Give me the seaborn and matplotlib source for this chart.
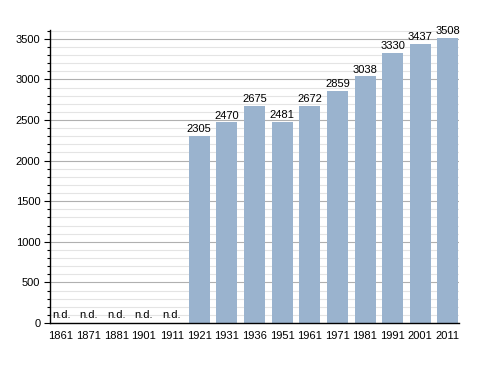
import numpy as np
import pandas as pd
import matplotlib
matplotlib.use('Agg')
import matplotlib.pyplot as plt
from matplotlib.ticker import MultipleLocator
import seaborn as sns

# census years and population (None = no data)
years = ['1861', '1871', '1881', '1901', '1911', '1921', '1931', '1936',
         '1951', '1961', '1971', '1981', '1991', '2001', '2011']
population = [None, None, None, None, None, 2305, 2470, 2675,
              2481, 2672, 2859, 3038, 3330, 3437, 3508]

df = pd.DataFrame({'year': years, 'pop': population})
df['plot_pop'] = df['pop'].fillna(0)

sns.set_style('white')
plt.rcParams['font.family'] = ['Liberation Sans', 'DejaVu Sans']
plt.rcParams['text.color'] = 'black'
plt.rcParams['xtick.color'] = 'black'
plt.rcParams['ytick.color'] = 'black'

fig = plt.figure(figsize=(4.88, 3.73), dpi=100)
ax = fig.add_axes([0.1025, 0.134, 0.838, 0.786])

sns.barplot(data=df, x='year', y='plot_pop', color='#9AB3CE', saturation=1,
            width=0.76, ax=ax, linewidth=0)
for p in ax.patches:
    p.set_zorder(3)

ax.set_ylim(0, 3610)
ax.set_xlim(-0.4, len(years) - 0.6)
ax.yaxis.set_major_locator(MultipleLocator(500))
ax.yaxis.set_minor_locator(MultipleLocator(100))
ax.set_axisbelow(True)
ax.grid(axis='y', which='major', color='#b0b0b0', linewidth=0.8)
ax.grid(axis='y', which='minor', color='#e4e4e4', linewidth=0.8)

for s in ['top', 'right']:
    ax.spines[s].set_visible(False)
ax.spines['left'].set_color('black')
ax.spines['bottom'].set_color('black')
ax.spines['left'].set_linewidth(1.0)
ax.spines['bottom'].set_linewidth(1.0)
ax.spines['bottom'].set_zorder(5)

ax.tick_params(axis='y', which='major', left=True, length=4, width=0.8,
               labelsize=8, pad=3)
ax.tick_params(axis='y', which='minor', left=True, length=2, width=0.8)
ax.tick_params(axis='x', bottom=False, labelsize=8, pad=2)
ax.set_xlabel('')
ax.set_ylabel('')

for i, v in enumerate(population):
    if v is None:
        ax.text(i, 40, 'n.d.', ha='center', va='bottom', fontsize=8, zorder=4)
    else:
        ax.text(i, v + 20, str(v), ha='center', va='bottom', fontsize=8, zorder=4)

fig.savefig('out.png', dpi=100)
